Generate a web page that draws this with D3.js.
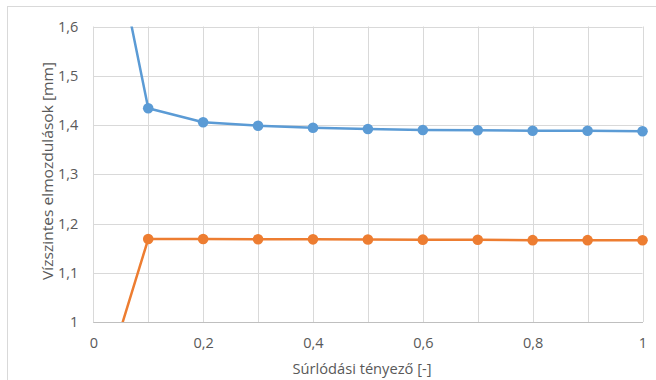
<!DOCTYPE html>
<html>
<head>
<meta charset="utf-8">
<script src="https://cdn.jsdelivr.net/npm/d3@7"></script>
<style>
  html, body { margin: 0; padding: 0; background: #fff; }
  svg { display: block; }
  text { font-family: "Open Sans", Lato, sans-serif; fill: #595959; }
</style>
</head>
<body>
<svg id="chart" width="656" height="380"></svg>
<script>
// Friction coefficient (x) and horizontal displacements (mm)
const friction = [0.05, 0.1, 0.2, 0.3, 0.4, 0.5, 0.6, 0.7, 0.8, 0.9, 1.0];
const seriesBlue = [1.709, 1.434, 1.4055, 1.3986, 1.3945, 1.3919, 1.3900, 1.3892, 1.3884, 1.3884, 1.3872];
const seriesOrange = [0.987, 1.1685, 1.1685, 1.1680, 1.1678, 1.1675, 1.1672, 1.1670, 1.1662, 1.1662, 1.1660];
const xTicks = [0, 0.2, 0.4, 0.6, 0.8, 1];
const yTicks = [1, 1.1, 1.2, 1.3, 1.4, 1.5, 1.6];
const xGrid = [0, 0.1, 0.2, 0.3, 0.4, 0.5, 0.6, 0.7, 0.8, 0.9, 1];

const xTitle = "Súrlódási tényező [-]";
const yTitle = "Vízszintes elmozdulások [mm]";

const svg = d3.select("#chart");
const plotLeft = 93.3, plotRight = 642.5, plotTop = 26.5, plotBottom = 322;

const x = d3.scaleLinear().domain([0, 1]).range([plotLeft, plotRight]);
const y = d3.scaleLinear().domain([1, 1.6]).range([plotBottom, plotTop]);
const fmt = d => String(+(+d).toFixed(1)).replace(".", ",");

// chart frame
svg.append("rect")
  .attr("x", 7.5).attr("y", 6.5).attr("width", 700).attr("height", 400)
  .attr("fill", "none").attr("stroke", "#D9D9D9").attr("stroke-width", 1);

// gridlines
svg.append("g").selectAll("line").data(yTicks).join("line")
  .attr("x1", plotLeft).attr("x2", plotRight)
  .attr("y1", d => Math.round(y(d)) + 0.5).attr("y2", d => Math.round(y(d)) + 0.5)
  .attr("stroke", "#D9D9D9").attr("stroke-width", 1);
svg.append("g").selectAll("line").data(xGrid).join("line")
  .attr("y1", plotTop).attr("y2", plotBottom)
  .attr("x1", d => Math.round(x(d)) + 0.5).attr("x2", d => Math.round(x(d)) + 0.5)
  .attr("stroke", "#D9D9D9").attr("stroke-width", 1);

// horizontal axis line
svg.append("line")
  .attr("x1", plotLeft).attr("x2", plotRight + 0.5)
  .attr("y1", Math.round(plotBottom) + 0.5).attr("y2", Math.round(plotBottom) + 0.5)
  .attr("stroke", "#BFBFBF").attr("stroke-width", 1.2);

// axes (labels only)
const xAxis = d3.axisBottom(x).tickValues(xTicks).tickFormat(fmt).tickSize(0).tickPadding(16);
const gx = svg.append("g").attr("transform", `translate(0,${plotBottom})`).call(xAxis);
gx.select(".domain").remove();
gx.selectAll("text").attr("font-size", 14.5).attr("fill", "#595959")
  .style("font-family", "'Open Sans', sans-serif");

const yAxis = d3.axisLeft(y).tickValues(yTicks).tickFormat(fmt).tickSize(0).tickPadding(15);
const gy = svg.append("g").attr("transform", `translate(${plotLeft},0)`).call(yAxis);
gy.select(".domain").remove();
gy.selectAll("text").attr("font-size", 14.5).attr("fill", "#595959")
  .style("font-family", "'Open Sans', sans-serif");

// axis titles
svg.append("text").attr("x", 362).attr("y", 374).attr("text-anchor", "middle")
  .attr("font-size", 15).attr("textLength", 139).attr("lengthAdjust", "spacingAndGlyphs")
  .text(xTitle);
svg.append("text").attr("transform", "translate(53,171) rotate(-90)")
  .attr("text-anchor", "middle").attr("font-size", 15)
  .attr("textLength", 218).attr("lengthAdjust", "spacingAndGlyphs")
  .text(yTitle);

// clipping to the plot area
svg.append("defs").append("clipPath").attr("id", "plot")
  .append("rect").attr("x", plotLeft).attr("y", plotTop)
  .attr("width", plotRight - plotLeft + 8).attr("height", plotBottom - plotTop);

const line = d3.line().x((d, i) => x(friction[i])).y(d => y(d));
const series = [
  { values: seriesBlue, color: "#5B9BD5" },
  { values: seriesOrange, color: "#ED7D31" }
];

const plot = svg.append("g").attr("clip-path", "url(#plot)");
series.forEach(s => {
  plot.append("path").datum(s.values)
    .attr("d", line).attr("fill", "none")
    .attr("stroke", s.color).attr("stroke-width", 2.5).attr("stroke-linejoin", "round");
});

// markers for in-range points
series.forEach(s => {
  const pts = s.values.map((v, i) => ({ xv: friction[i], v }))
    .filter(p => p.v >= 1 && p.v <= 1.6);
  svg.append("g").selectAll("circle").data(pts).join("circle")
    .attr("cx", p => x(p.xv)).attr("cy", p => y(p.v)).attr("r", 5.3)
    .attr("fill", s.color);
});
</script>
</body>
</html>
